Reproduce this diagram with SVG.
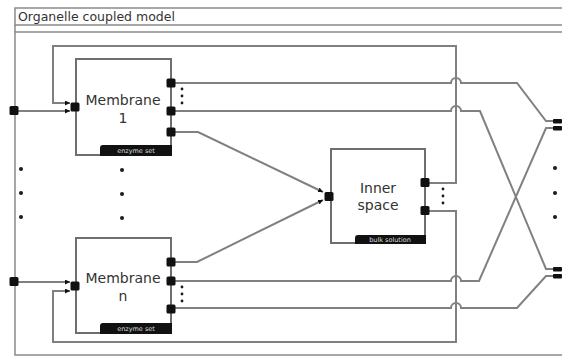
<svg xmlns="http://www.w3.org/2000/svg" width="562" height="360" viewBox="0 0 562 360">
  <defs>
    <style>
      .frame { fill: #ffffff; stroke: #8a8a8a; stroke-width: 1.5; }
      .box { fill: #ffffff; stroke: #6e6e6e; stroke-width: 2; }
      .wire { fill: none; stroke: #808080; stroke-width: 2; }
      .port { fill: #111111; }
      .tab { fill: #111111; }
      .dot { fill: #1a1a1a; }
      .title { font-family: "DejaVu Sans", sans-serif; font-size: 12.5px; fill: #333333; }
      .name { font-family: "DejaVu Sans", sans-serif; font-size: 14px; fill: #333333; text-anchor: middle; }
      .tabtext { font-family: "DejaVu Sans", sans-serif; font-size: 6.5px; fill: #dddddd; text-anchor: middle; }
    </style>
    <marker id="arrow" viewBox="0 0 6 6" refX="6" refY="3" markerWidth="5" markerHeight="5" orient="auto" markerUnits="userSpaceOnUse">
      <path d="M0,0 L6,3 L0,6 Z" fill="#111111"/>
    </marker>
  </defs>

  <rect width="562" height="360" fill="#ffffff"/>

  <!-- model frame with title bar -->
  <g id="model">
    <rect class="frame" x="15" y="8" width="552" height="17"/>
    <text class="title" x="18" y="21">Organelle coupled model</text>
    <rect class="frame" x="15" y="32" width="552" height="323"/>
    <line x1="15" y1="25" x2="15" y2="32" stroke="#8a8a8a" stroke-width="1.5"/>
  </g>

  <!-- connectors -->
  <g id="connectors">
    <!-- feedback from inner space to membrane 1 -->
    <path class="wire" d="M429 183 H456 V46 H53 V103 H70" marker-end="url(#arrow)"/>
    <!-- external input to membrane 1 -->
    <path class="wire" d="M18 111 H70" marker-end="url(#arrow)"/>
    <!-- membrane 1 to inner space -->
    <path class="wire" d="M175 132 H198 L323 192" marker-end="url(#arrow)"/>
    <!-- membrane n to inner space -->
    <path class="wire" d="M175 262 H197 L323 200" marker-end="url(#arrow)"/>
    <!-- feedback from inner space to membrane n -->
    <path class="wire" d="M429 211 H456 V342 H53 V291 H70" marker-end="url(#arrow)"/>
    <!-- external input to membrane n -->
    <path class="wire" d="M18 282 H70" marker-end="url(#arrow)"/>
    <!-- membrane outputs to model outputs, hopping over the feedback wire -->
    <path class="wire" d="M175 83 H451 a5 5 0 0 1 10 0 H517 L546 121 H553"/>
    <path class="wire" d="M175 111 H451 a5 5 0 0 1 10 0 H480 L546 269 H553"/>
    <path class="wire" d="M175 281 H451 a5 5 0 0 1 10 0 H479 L546 128 H553"/>
    <path class="wire" d="M175 308 H451 a5 5 0 0 1 10 0 H517 L546 276 H553"/>
  </g>

  <!-- model ports -->
  <g id="model-ports">
    <rect class="port" x="9.5" y="106" width="9" height="9" rx="1.5"/>
    <rect class="port" x="9.5" y="277" width="9" height="9" rx="1.5"/>
    <rect class="port" x="553" y="119" width="9" height="4.5" rx="1"/>
    <rect class="port" x="553" y="126" width="9" height="4.5" rx="1"/>
    <rect class="port" x="553" y="267" width="9" height="4.5" rx="1"/>
    <rect class="port" x="553" y="274" width="9" height="4.5" rx="1"/>
    <circle class="dot" cx="21" cy="169" r="2"/>
    <circle class="dot" cx="21" cy="193" r="2"/>
    <circle class="dot" cx="21" cy="217" r="2"/>
    <circle class="dot" cx="555" cy="168" r="2"/>
    <circle class="dot" cx="555" cy="193" r="2"/>
    <circle class="dot" cx="555" cy="217" r="2"/>
    <circle class="dot" cx="122" cy="170" r="2"/>
    <circle class="dot" cx="122" cy="194" r="2"/>
    <circle class="dot" cx="122" cy="218" r="2"/>
  </g>

  <!-- membrane 1 -->
  <g id="membrane-1">
    <rect class="box" x="76" y="59" width="95" height="96"/>
    <path class="tab" d="M100 155 V148 a3 3 0 0 1 3 -3 H172 V156 H100 Z"/>
    <text class="tabtext" x="136" y="153">enzyme set</text>
    <text class="name" x="123" y="105">Membrane</text>
    <text class="name" x="123" y="123">1</text>
    <rect class="port" x="70.5" y="102.5" width="9" height="9" rx="1.5"/>
    <rect class="port" x="166.5" y="78.5" width="9" height="9" rx="1.5"/>
    <rect class="port" x="166.5" y="106.5" width="9" height="9" rx="1.5"/>
    <rect class="port" x="166.5" y="127.5" width="9" height="9" rx="1.5"/>
    <circle class="dot" cx="182" cy="89" r="1.4"/>
    <circle class="dot" cx="182" cy="96" r="1.4"/>
    <circle class="dot" cx="182" cy="103" r="1.4"/>
  </g>

  <!-- membrane n -->
  <g id="membrane-n">
    <rect class="box" x="76" y="238" width="95" height="95"/>
    <path class="tab" d="M100 333 V326 a3 3 0 0 1 3 -3 H172 V334 H100 Z"/>
    <text class="tabtext" x="136" y="331">enzyme set</text>
    <text class="name" x="123" y="283">Membrane</text>
    <text class="name" x="123" y="301">n</text>
    <rect class="port" x="70.5" y="281.5" width="9" height="9" rx="1.5"/>
    <rect class="port" x="166.5" y="257.5" width="9" height="9" rx="1.5"/>
    <rect class="port" x="166.5" y="276.5" width="9" height="9" rx="1.5"/>
    <rect class="port" x="166.5" y="304.5" width="9" height="9" rx="1.5"/>
    <circle class="dot" cx="182" cy="287" r="1.4"/>
    <circle class="dot" cx="182" cy="294" r="1.4"/>
    <circle class="dot" cx="182" cy="301" r="1.4"/>
  </g>

  <!-- inner space -->
  <g id="inner-space">
    <rect class="box" x="331" y="149" width="94" height="94"/>
    <path class="tab" d="M355 243 V238 a3 3 0 0 1 3 -3 H426 V244 H355 Z"/>
    <text class="tabtext" x="390" y="242">bulk solution</text>
    <text class="name" x="378" y="193">Inner</text>
    <text class="name" x="378" y="210">space</text>
    <rect class="port" x="324.5" y="192" width="9" height="9" rx="1.5"/>
    <rect class="port" x="420.5" y="178" width="9" height="9" rx="1.5"/>
    <rect class="port" x="420.5" y="206" width="9" height="9" rx="1.5"/>
    <circle class="dot" cx="443" cy="189" r="1.4"/>
    <circle class="dot" cx="443" cy="196" r="1.4"/>
    <circle class="dot" cx="443" cy="203" r="1.4"/>
  </g>
</svg>
